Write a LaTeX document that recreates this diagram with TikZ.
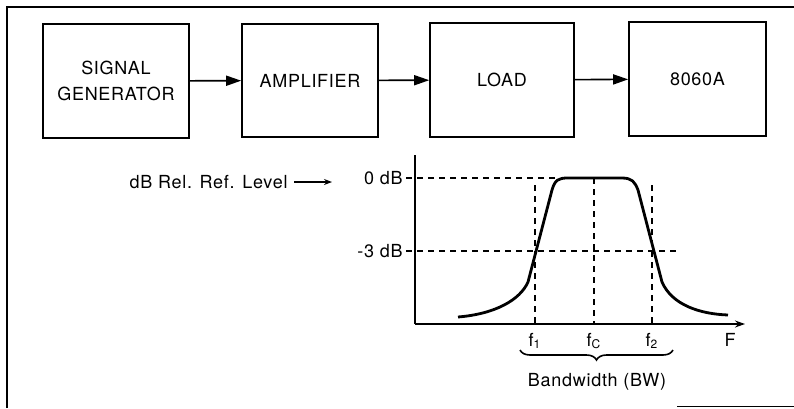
\documentclass[tikz,border=0pt]{standalone}
\usepackage{fontspec}
\setmainfont{TeX Gyre Heros}[LetterSpace=4]
\usetikzlibrary{arrows.meta,decorations.pathreplacing}
\tikzset{
	blk/.style={draw, line width=0.8pt, align=center, inner sep=0pt},
	flow/.style={-{Triangle[length=7.5pt,width=5pt]}, line width=0.8pt},
	level/.style={dashed, dash pattern=on 3pt off 2.5pt, line width=0.6pt},
	lbl/.style={inner sep=1pt}
}
\begin{document}
\begin{tikzpicture}[x=0.5pt, y=-0.5pt, font=\fontsize{9}{13}\selectfont]
	\useasboundingbox (0,0) rectangle (794,408);
	\draw[line width=0.7pt] (7,408) -- (7,7) -- (794,7);
	\draw[line width=0.5pt] (677,406) -- (794,406);
	% blocks
	\node[blk, minimum width=73pt, minimum height=57pt] (gen) at (116,81) {SIGNAL\\GENERATOR};
	\node[blk, minimum width=68pt, minimum height=56.5pt] (amp) at (310,80.5) {AMPLIFIER};
	\node[blk, minimum width=72pt, minimum height=57pt] (load) at (502,80) {LOAD};
	\node[blk, minimum width=68.5pt, minimum height=57pt] (dmm) at (697.5,79) {8060A};
	\path[flow] (gen) edge (amp);
	\path[flow] (amp) edge (load);
	\path[flow] (load) edge (dmm);
	% response plot
	\coordinate (o) at (415,324);
	\coordinate (ytop) at (415,155);
	\coordinate (xend) at (745,324);
	\draw[line width=0.7pt] (ytop) -- (o);
	\draw[line width=0.7pt, -{Stealth[length=5pt,width=3.5pt]}] (o) -- (xend);
	\node[lbl, anchor=east] (ref) at (290,182) {dB Rel. Ref. Level};
	\node[lbl, anchor=east] (zdb) at (405,178) {0 dB};
	\node[lbl, anchor=east] (mdb) at (405,251) {-3 dB};
	\coordinate (refend) at (332,182);
	\path[line width=0.6pt, -{Stealth[length=4pt,width=3pt]}] (ref.east) ++(4,0) edge (refend);
	\draw[level] (zdb.east) ++(1,0) -- (557,178);
	\draw[level] (mdb.east) ++(1,0) -- (678,251);
	\node[lbl] (f1) at (535,341) {f\textsubscript{1}};
	\node[lbl] (fc) at (594,341) {f\textsubscript{C}};
	\node[lbl] (f2) at (652,341) {f\textsubscript{2}};
	\node[lbl] (fx) at (730,340) {F};
	\draw[level] (535,185) -- (535,324);
	\draw[level] (594,178) -- (594,324);
	\draw[level] (652,185) -- (652,324);
	\draw[line width=1.4pt, line join=round]
		(458,317) .. controls (495,314) and (520,300) .. (528,282) -- (552,190)
		.. controls (555,180) and (558,178) .. (568,178) -- (622,178)
		.. controls (632,178) and (635,182) .. (638,190) -- (662,282)
		.. controls (672,305) and (700,314) .. (728,315);
	\coordinate (bwl) at (520,350);
	\coordinate (bwr) at (673,350);
	\draw[line width=0.8pt, decorate, decoration={brace, mirror, amplitude=5pt}] (bwl) -- (bwr);
	\node[lbl] (bw) at (597,382) {Bandwidth (BW)};
\end{tikzpicture}
\end{document}
